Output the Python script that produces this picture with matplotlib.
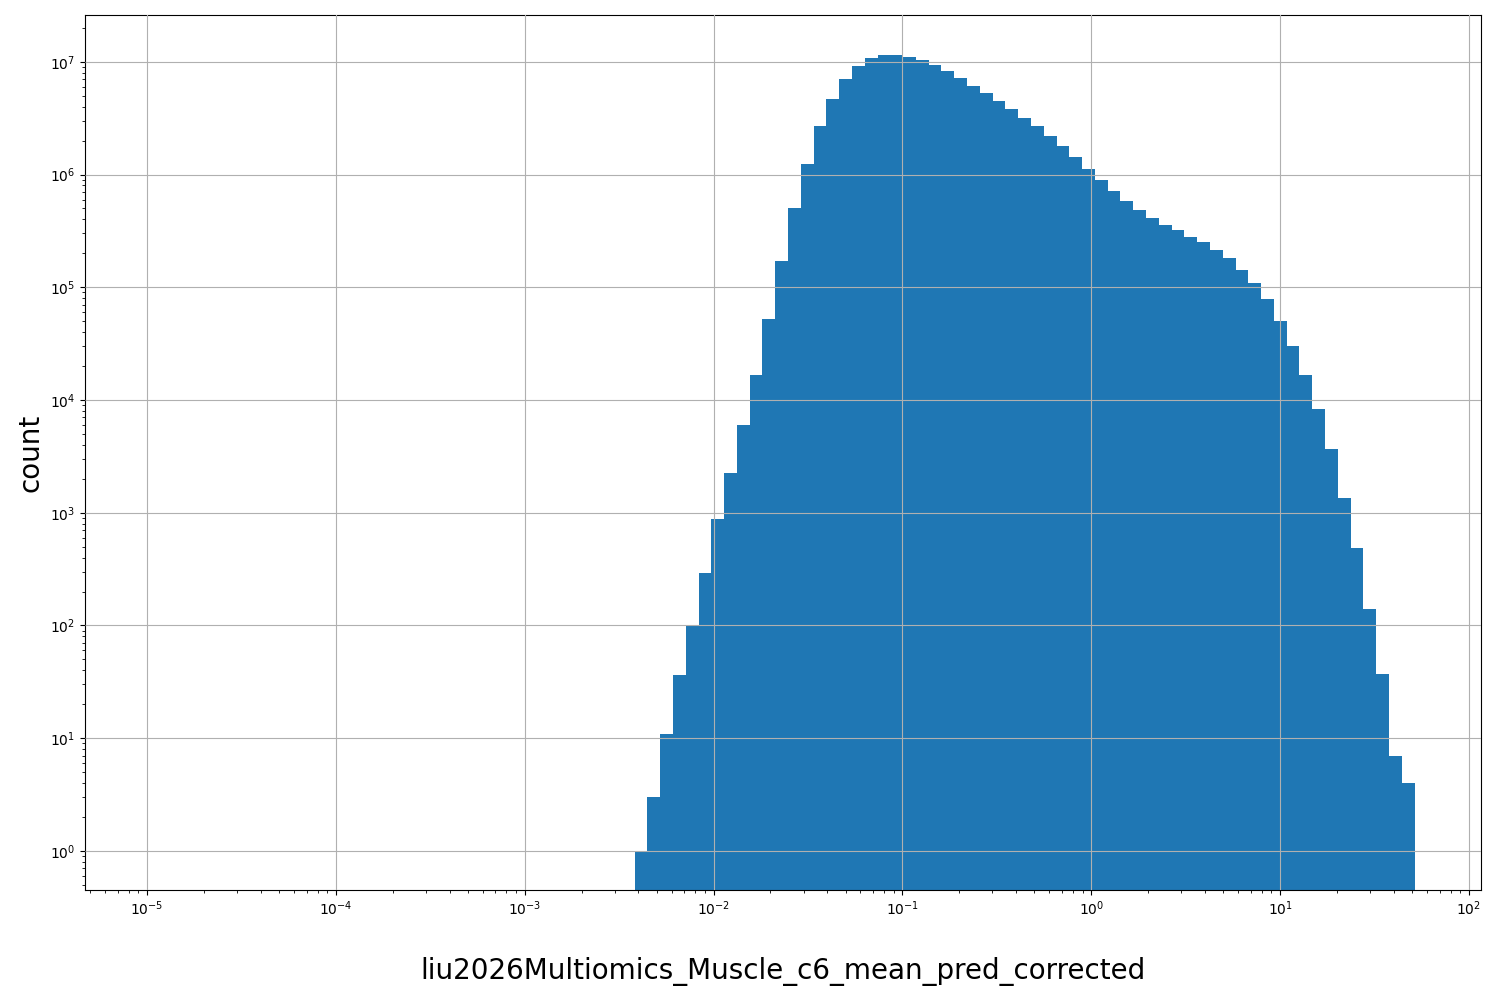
import numpy as np
import matplotlib
matplotlib.use("Agg")
import matplotlib.pyplot as plt

log_start = -2.418
log_end = 1.712
counts = [1, 3, 11, 36, 100, 290, 880, 2250, 6000, 16500, 52000, 170000, 500000,
          1.25e6, 2.7e6, 4.7e6, 7.0e6, 9.2e6, 1.07e7, 1.15e7, 1.15e7, 1.1e7, 1.03e7,
          9.4e6, 8.3e6, 7.2e6, 6.1e6, 5.3e6, 4.5e6, 3.8e6, 3.2e6, 2.7e6, 2.2e6, 1.8e6,
          1.42e6, 1.12e6, 8.9e5, 7.1e5, 5.8e5, 4.8e5, 4.1e5, 3.6e5, 3.2e5, 2.8e5,
          2.5e5, 2.15e5, 1.8e5, 1.42e5, 1.1e5, 7.8e4, 5.0e4, 3.0e4, 1.65e4, 8.3e3,
          3.7e3, 1.35e3, 490, 140, 37, 7, 4]

edges = np.logspace(log_start, log_end, len(counts) + 1)

fig = plt.figure(figsize=(15, 10), dpi=100)
ax = fig.add_axes([0.0567, 0.11, 0.9307, 0.875])
ax.hist(edges[:-1], bins=edges, weights=counts, color="#1f77b4")
ax.set_xscale("log")
ax.set_yscale("log")
ax.set_xlim(4.7e-6, 1.16e2)
ax.set_ylim(0.45, 2.6e7)
ax.grid(True)
ax.set_axisbelow(False)
ax.set_xlabel("liu2026Multiomics_Muscle_c6_mean_pred_corrected", fontsize=20, labelpad=28)
ax.set_ylabel("count", fontsize=20)
fig.savefig("out.png")
